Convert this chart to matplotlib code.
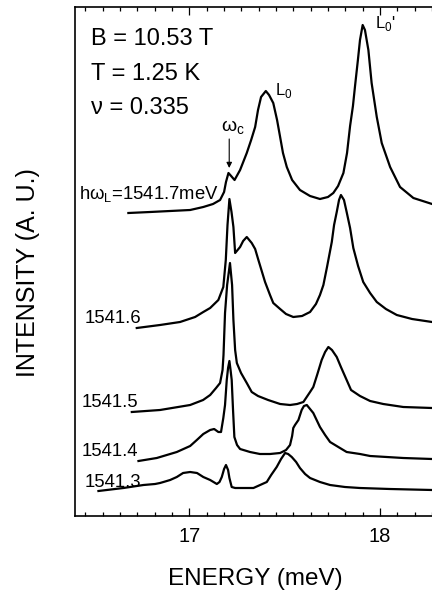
import matplotlib
matplotlib.use("Agg")
import matplotlib.pyplot as plt
from matplotlib.ticker import MultipleLocator, NullLocator

plt.rcParams['font.family'] = ['Liberation Sans', 'DejaVu Sans']

# ---- data: energy (meV) and intensity (arb. units) ----
E_7 = [16.680, 16.794, 16.899, 17.004, 17.073, 17.124, 17.161, 17.182, 17.192, 17.205,
       17.219, 17.237, 17.266, 17.301, 17.324, 17.345, 17.360, 17.376, 17.401, 17.418,
       17.440, 17.460, 17.476, 17.491, 17.511, 17.539, 17.580, 17.633, 17.685, 17.727,
       17.755, 17.780, 17.808, 17.827, 17.843, 17.858, 17.869, 17.884, 17.895, 17.909,
       17.921, 17.939, 17.956, 17.983, 18.009, 18.053, 18.105, 18.175, 18.273]
I_7 = [303, 304, 305, 306, 309, 312, 316, 324, 334, 343,
       340, 336, 346, 363, 376, 389, 406, 419, 425, 421,
       413, 396, 379, 363, 349, 336, 326, 320, 317, 319,
       323, 330, 343, 363, 390, 410, 430, 456, 476, 491,
       486, 466, 433, 399, 373, 349, 329, 318, 312]

E_6 = [16.724, 16.846, 16.951, 17.030, 17.073, 17.109, 17.152, 17.166, 17.178, 17.191,
       17.200, 17.210, 17.221, 17.231, 17.240, 17.266, 17.282, 17.301, 17.327, 17.345,
       17.362, 17.397, 17.423, 17.440, 17.476, 17.507, 17.545, 17.591, 17.633, 17.664,
       17.685, 17.703, 17.722, 17.747, 17.759, 17.773, 17.785, 17.795, 17.811, 17.825,
       17.843, 17.860, 17.885, 17.912, 17.948, 17.983, 18.031, 18.088, 18.168, 18.273]
I_6 = [188, 191, 194, 199, 204, 208, 216, 223, 229, 256,
       291, 317, 304, 289, 263, 269, 275, 279, 273, 267,
       256, 234, 221, 213, 207, 202, 199, 200, 204, 212,
       221, 231, 249, 274, 291, 304, 316, 321, 316, 304,
       288, 268, 250, 234, 223, 214, 207, 201, 197, 194]

E_5 = [16.698, 16.846, 17.004, 17.072, 17.109, 17.140, 17.161, 17.174, 17.179, 17.187,
       17.198, 17.213, 17.224, 17.231, 17.240, 17.249, 17.271, 17.301, 17.327, 17.360,
       17.413, 17.476, 17.528, 17.565, 17.598, 17.633, 17.650, 17.670, 17.694, 17.712,
       17.729, 17.748, 17.773, 17.795, 17.825, 17.848, 17.895, 17.948, 18.017, 18.122,
       18.273]
I_5 = [104, 106, 111, 116, 121, 128, 133, 146, 161, 203,
       231, 253, 231, 196, 166, 153, 143, 133, 124, 120,
       116, 112, 111, 112, 114, 124, 129, 141, 156, 164,
       169, 166, 159, 149, 136, 126, 120, 115, 112, 109,
       108]

E_4 = [16.733, 16.829, 16.934, 17.004, 17.039, 17.073, 17.109, 17.130, 17.152, 17.166,
       17.178, 17.187, 17.196, 17.203, 17.210, 17.216, 17.222, 17.229, 17.236, 17.250,
       17.266, 17.318, 17.370, 17.423, 17.476, 17.507, 17.528, 17.539, 17.545, 17.554,
       17.572, 17.589, 17.601, 17.616, 17.633, 17.650, 17.685, 17.712, 17.738, 17.790,
       17.825, 17.895, 17.948, 18.122, 18.273]
I_4 = [55, 58, 64, 70, 76, 82, 86, 87, 84, 84,
       98, 111, 136, 148, 155, 146, 136, 106, 79, 71,
       67, 64, 62, 62, 63, 66, 71, 80, 88, 91,
       96, 106, 110, 111, 107, 103, 89, 81, 74, 68,
       64, 62, 60, 58, 57]

E_3 = [16.523, 16.654, 16.759, 16.820, 16.846, 16.864, 16.899, 16.934, 16.967, 17.004,
       17.040, 17.073, 17.109, 17.144, 17.158, 17.170, 17.182, 17.192, 17.203, 17.210,
       17.222, 17.240, 17.301, 17.336, 17.371, 17.406, 17.429, 17.458, 17.481, 17.502,
       17.518, 17.537, 17.560, 17.580, 17.607, 17.633, 17.685, 17.738, 17.816, 17.895,
       18.052, 18.273]
I_3 = [25, 28, 31, 32, 33, 34, 36, 39, 43, 44,
       43, 39, 36, 32, 34, 39, 47, 51, 46, 38,
       29, 28, 28, 28, 31, 34, 41, 49, 57, 63,
       62, 59, 54, 48, 42, 38, 34, 31, 29, 28,
       27, 26]

curve_labels = ["h\u03c9$_{\\mathregular{L}}$=1541.7meV", "1541.6", "1541.5", "1541.4", "1541.3"]
label_E = [16.419, 16.448, 16.437, 16.435, 16.448]
label_I = [317, 193, 109, 60, 29]

x_ticks = [17, 18]
info_lines = ["B = 10.53 T", "T = 1.25 K", "\u03bd = 0.335"]

# ---- figure ----
fig = plt.figure(figsize=(4.32, 5.95), dpi=100)
W, H = 432.0, 595.0
ax = fig.add_axes([75 / W, (H - 516) / H, 362.2 / W, 509 / H])

for E, I in [(E_7, I_7), (E_6, I_6), (E_5, I_5), (E_4, I_4), (E_3, I_3)]:
    ax.plot(E, I, color='black', lw=1.6, solid_joinstyle='round')

ax.set_xlim(16.40, 18.30)
ax.set_ylim(0, 509)

ax.xaxis.set_major_locator(MultipleLocator(1))
ax.xaxis.set_minor_locator(MultipleLocator(1 / 11))
ax.yaxis.set_major_locator(NullLocator())
ax.yaxis.set_minor_locator(NullLocator())
ax.tick_params(axis='x', which='both', direction='in', top=True, bottom=True,
               width=0.9, labelsize=14.5, pad=8)
ax.tick_params(axis='x', which='major', length=6)
ax.tick_params(axis='x', which='minor', length=3)
ax.set_xticks(x_ticks)
ax.set_xticklabels([str(t) for t in x_ticks])

for s in ax.spines.values():
    s.set_linewidth(1.2)
ax.spines['right'].set_visible(False)

# labels of curves
for lab, xe, yi in zip(curve_labels, label_E, label_I):
    ax.text(xe, yi, lab, fontsize=13.3, ha='left', va='baseline')

# info text
info_I = [471, 436, 402]
for t, yi in zip(info_lines, info_I):
    ax.text(16.486, yi, t, fontsize=17, ha='left', va='baseline')

# peak labels
ax.text(17.166, 384, "\u03c9$_{\\mathregular{c}}$", fontsize=14, ha='left', va='baseline')
ax.annotate('', xy=(17.209, 348), xytext=(17.209, 377),
            arrowprops=dict(arrowstyle='-|>', color='black', lw=0.8,
                            mutation_scale=8, shrinkA=0, shrinkB=0))
ax.text(17.447, 421, "L$_{\\mathregular{0}}$", fontsize=12, ha='left', va='baseline')
ax.text(17.976, 488, "L$_{\\mathregular{0}}$'", fontsize=12, ha='left', va='baseline')

# axis titles
fig.text(35 / W, 1 - 272.5 / H, "INTENSITY (A. U.)", rotation=90, rotation_mode='anchor',
         ha='center', va='baseline', fontsize=18)
fig.text(255 / W, 1 - 585 / H, "ENERGY (meV)", ha='center', va='baseline', fontsize=17.5)

fig.savefig("out.png", dpi=100)
